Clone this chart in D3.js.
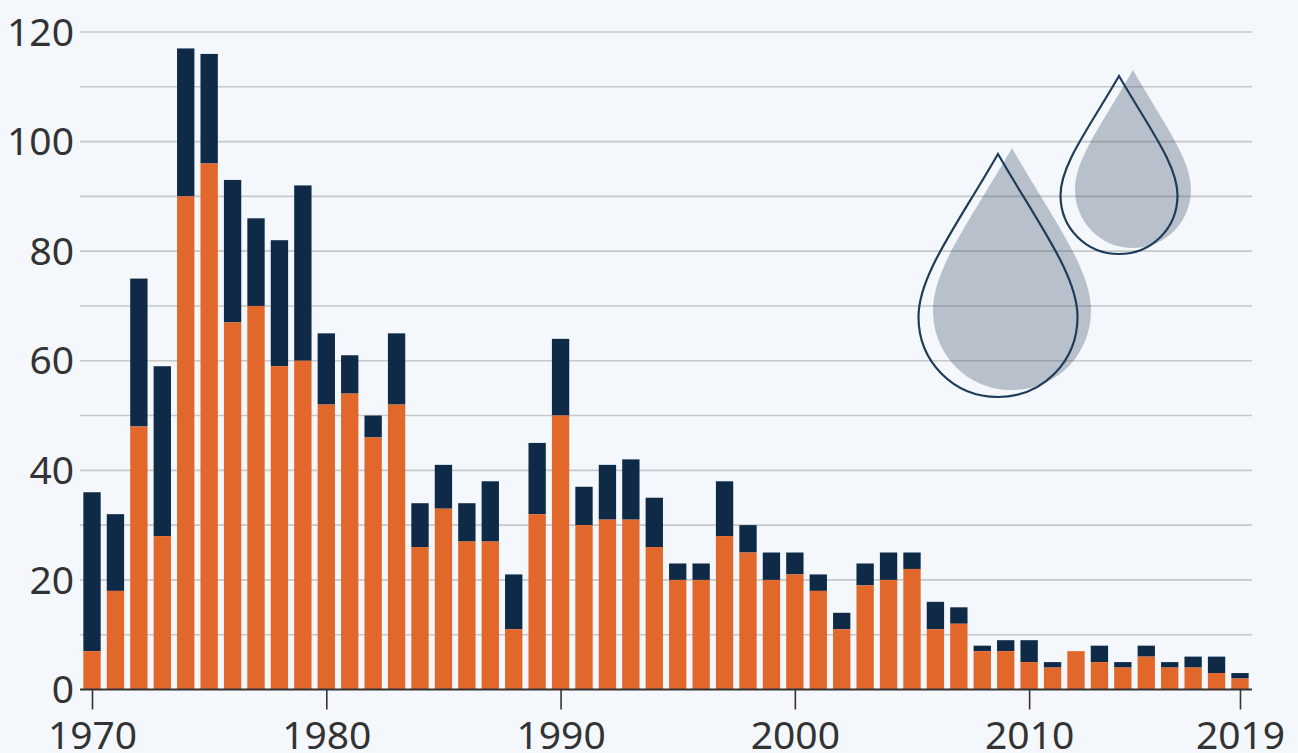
<!DOCTYPE html>
<html>
<head>
<meta charset="utf-8">
<script src="https://cdnjs.cloudflare.com/ajax/libs/d3/7.8.5/d3.min.js"></script>
<style>
html, body {margin: 0; padding: 0; background: #f4f8fc;}
svg {display: block;}
text {font-family: "Noto Sans", sans-serif; font-size: 39px; fill: #333;}
</style>
</head>
<body>
<script>
//values
var years = [1970,1971,1972,1973,1974,1975,1976,1977,1978,1979,
    1980,1981,1982,1983,1984,1985,1986,1987,1988,1989,
    1990,1991,1992,1993,1994,1995,1996,1997,1998,1999,
    2000,2001,2002,2003,2004,2005,2006,2007,2008,2009,
    2010,2011,2012,2013,2014,2015,2016,2017,2018,2019];

//lower (orange) segment
var lower = [7,18,48,28,90,96,67,70,59,60,
    52,54,46,52,26,33,27,27,11,32,
    50,30,31,31,26,20,20,28,25,20,
    21,18,11,19,20,22,11,12,7,7,
    5,4,7,5,4,6,4,4,3,2];

//upper (navy) segment
var upper = [29,14,27,31,27,20,26,16,23,32,
    13,7,4,13,8,8,7,11,10,13,
    14,7,10,11,9,3,3,10,5,5,
    4,3,3,4,5,3,5,3,1,2,
    4,1,0,3,1,2,1,2,3,1];

var xTickYears = [1970,1980,1990,2000,2010,2019];
var yTicks = [0,20,40,60,80,100,120];
var gridValues = d3.range(10, 130, 10);

//begin script when window loads
(function(){

var width = 1298,
    height = 753;

var svg = d3.select("body")
    .append("svg")
    .attr("width", width)
    .attr("height", height);

var y = d3.scaleLinear()
    .domain([0, 120])
    .range([689.5, 32]);

var x = d3.scaleBand()
    .domain(years)
    .range([80.3, 1251.7])
    .paddingInner(0.26)
    .paddingOuter(0.13);

setGrid();
setDrops();
setBars();
setAxes();

function setGrid(){
    svg.selectAll(".grid")
        .data(gridValues)
        .enter()
        .append("line")
        .attr("class", "grid")
        .attr("x1", 80)
        .attr("x2", 1252)
        .attr("y1", function(d){ return y(d); })
        .attr("y2", function(d){ return y(d); })
        .attr("stroke", "#c6c9cb")
        .attr("stroke-width", 1.6);
};

function setBars(){
    var groups = svg.selectAll(".year")
        .data(years)
        .enter()
        .append("g")
        .attr("class", "year");

    groups.append("rect")
        .attr("x", function(d){ return x(d); })
        .attr("width", x.bandwidth())
        .attr("y", function(d, i){ return y(lower[i] + upper[i]); })
        .attr("height", function(d, i){ return y(lower[i]) - y(lower[i] + upper[i]); })
        .attr("fill", "#0e2a47");

    groups.append("rect")
        .attr("x", function(d){ return x(d); })
        .attr("width", x.bandwidth())
        .attr("y", function(d, i){ return y(lower[i]); })
        .attr("height", function(d, i){ return y(0) - y(lower[i]); })
        .attr("fill", "#e2672a");
};

function setAxes(){
    var xAxis = d3.axisBottom(d3.scaleLinear().domain([1970, 2019]).range([x(1970) + x.bandwidth() / 2, x(2019) + x.bandwidth() / 2]))
        .tickValues(xTickYears)
        .tickFormat(d3.format("d"))
        .tickSize(20)
        .tickPadding(12)
        .tickSizeOuter(0);

    var gx = svg.append("g")
        .attr("transform", "translate(0," + y(0) + ")")
        .call(xAxis);
    gx.select(".domain").remove();
    gx.selectAll("line").attr("stroke", "#333").attr("stroke-width", 1.6);
    gx.selectAll("text").attr("fill", "#333").style("font-size", "39px").style("font-family", null);

    //baseline
    svg.append("line")
        .attr("x1", 80)
        .attr("x2", 1252)
        .attr("y1", y(0))
        .attr("y2", y(0))
        .attr("stroke", "#333")
        .attr("stroke-width", 1.8);

    svg.selectAll(".ylab")
        .data(yTicks)
        .enter()
        .append("text")
        .attr("class", "ylab")
        .attr("x", 74)
        .attr("y", function(d){ return y(d); })
        .attr("dy", "0.35em")
        .attr("text-anchor", "end")
        .text(function(d){ return d; });
};

//teardrop: tip at top, widest about two thirds of the way down
function dropPath(cx, tipY, bottomY, halfW){
    var h = bottomY - tipY,
        widest = tipY + h * 0.67,
        p = d3.path();
    p.moveTo(cx, tipY);
    p.bezierCurveTo(cx + halfW * 0.53, tipY + h * 0.3, cx + halfW, tipY + h * 0.5, cx + halfW, widest);
    p.bezierCurveTo(cx + halfW, bottomY - h * 0.145, cx + halfW * 0.56, bottomY, cx, bottomY);
    p.bezierCurveTo(cx - halfW * 0.56, bottomY, cx - halfW, bottomY - h * 0.145, cx - halfW, widest);
    p.bezierCurveTo(cx - halfW, tipY + h * 0.5, cx - halfW * 0.53, tipY + h * 0.3, cx, tipY);
    p.closePath();
    return p.toString();
};

function setDrops(){
    var filled = [[1012, 148, 390, 79], [1133, 70, 248, 58]];
    var outlined = [[998, 154, 397, 79.5], [1119, 76, 254, 58.5]];

    svg.selectAll(".dropFill")
        .data(filled)
        .enter()
        .append("path")
        .attr("class", "dropFill")
        .attr("d", function(d){ return dropPath(d[0], d[1], d[2], d[3]); })
        .attr("fill", "#2f4358")
        .attr("fill-opacity", 0.3);

    svg.selectAll(".dropLine")
        .data(outlined)
        .enter()
        .append("path")
        .attr("class", "dropLine")
        .attr("d", function(d){ return dropPath(d[0], d[1], d[2], d[3]); })
        .attr("fill", "none")
        .attr("stroke", "#1f3c5a")
        .attr("stroke-width", 2.2);
};

})();
</script>
</body>
</html>
